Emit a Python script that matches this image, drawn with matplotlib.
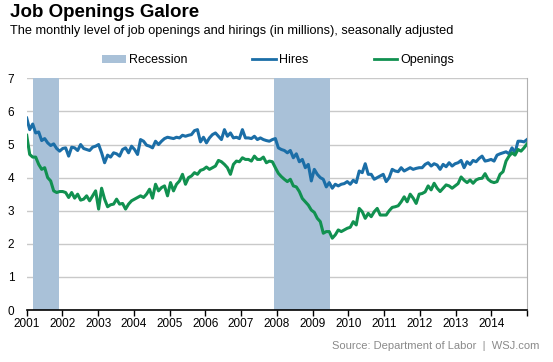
import numpy as np
import matplotlib
matplotlib.use("Agg")
import matplotlib.pyplot as plt
from matplotlib.patches import Patch
from matplotlib.lines import Line2D

plt.rcParams['font.family'] = ['Liberation Sans', 'DejaVu Sans']

years = list(range(2001, 2015))
year_labels = [str(y) for y in years]

hires = [
    5.80, 5.45, 5.62, 5.35, 5.38, 5.12, 5.18, 5.05, 4.97, 5.02, 4.88, 4.80,  # 2001
    4.88, 4.90, 4.65, 4.92, 4.90, 4.82, 5.00, 4.88, 4.85, 4.82, 4.92, 4.95,  # 2002
    5.00, 4.75, 4.45, 4.68, 4.62, 4.75, 4.72, 4.65, 4.85, 4.90, 4.75, 4.95,  # 2003
    4.85, 4.70, 5.15, 5.10, 4.98, 4.95, 4.90, 5.10, 5.00, 5.10, 5.18, 5.22,  # 2004
    5.20, 5.18, 5.22, 5.20, 5.28, 5.25, 5.28, 5.30, 5.42, 5.45, 5.08, 5.22,  # 2005
    5.05, 5.20, 5.30, 5.35, 5.25, 5.15, 5.45, 5.25, 5.35, 5.20, 5.22, 5.18,  # 2006
    5.45, 5.20, 5.20, 5.18, 5.25, 5.15, 5.20, 5.15, 5.12, 5.10, 5.15, 5.18,  # 2007
    4.90, 4.85, 4.82, 4.75, 4.82, 4.60, 4.72, 4.48, 4.55, 4.30, 4.40, 3.90,  # 2008
    4.25, 4.10, 4.00, 3.95, 3.72, 3.85, 3.68, 3.80, 3.75, 3.80, 3.82, 3.88,  # 2009
    3.80, 3.92, 3.85, 4.20, 4.15, 4.42, 4.10, 4.10, 3.95, 4.00, 4.05, 4.10,  # 2010
    3.88, 4.00, 4.25, 4.20, 4.18, 4.30, 4.20, 4.25, 4.30, 4.25, 4.28, 4.30,  # 2011
    4.30, 4.40, 4.45, 4.35, 4.42, 4.38, 4.25, 4.40, 4.33, 4.45, 4.35, 4.42,  # 2012
    4.45, 4.52, 4.30, 4.48, 4.40, 4.52, 4.48, 4.58, 4.65, 4.50, 4.52, 4.55,  # 2013
    4.50, 4.68, 4.72, 4.75, 4.78, 4.72, 4.90, 4.75, 5.10, 5.10, 5.08, 5.15,  # 2014
]

openings = [
    5.28, 4.70, 4.62, 4.62, 4.40, 4.25, 4.30, 4.00, 3.90, 3.60, 3.55, 3.58,  # 2001
    3.58, 3.55, 3.40, 3.55, 3.38, 3.50, 3.32, 3.35, 3.45, 3.30, 3.45, 3.60,  # 2002
    3.05, 3.68, 3.35, 3.12, 3.18, 3.20, 3.35, 3.20, 3.22, 3.05, 3.20, 3.30,  # 2003
    3.35, 3.40, 3.45, 3.40, 3.50, 3.65, 3.38, 3.80, 3.60, 3.70, 3.75, 3.45,  # 2004
    3.85, 3.60, 3.80, 3.90, 4.10, 3.80, 4.00, 4.05, 4.15, 4.10, 4.22, 4.25,  # 2005
    4.32, 4.25, 4.30, 4.35, 4.52, 4.48, 4.40, 4.30, 4.10, 4.40, 4.50, 4.48,  # 2006
    4.60, 4.55, 4.55, 4.50, 4.65, 4.55, 4.55, 4.62, 4.45, 4.50, 4.48, 4.30,  # 2007
    4.13, 4.03, 3.95, 3.88, 3.95, 3.75, 3.72, 3.58, 3.37, 3.27, 3.17, 3.02,  # 2008
    2.95, 2.77, 2.67, 2.32, 2.37, 2.37, 2.17, 2.27, 2.42, 2.37, 2.42, 2.47,  # 2009
    2.50, 2.67, 2.57, 3.07, 2.97, 2.77, 2.92, 2.82, 2.97, 3.07, 2.87, 2.87,  # 2010
    2.87, 3.00, 3.10, 3.12, 3.15, 3.27, 3.42, 3.27, 3.50, 3.38, 3.22, 3.50,  # 2011
    3.52, 3.57, 3.75, 3.63, 3.83, 3.68, 3.58, 3.68, 3.78, 3.75, 3.68, 3.75,  # 2012
    3.82, 4.02, 3.92, 3.85, 3.93, 3.83, 3.93, 3.97, 3.98, 4.12, 3.95, 3.88,  # 2013
    3.85, 3.88, 4.10, 4.18, 4.50, 4.65, 4.75, 4.68, 4.85, 4.80, 4.90, 5.02,  # 2014
]

recessions = [(2001 + 2/12, 2001 + 11/12), (2007 + 11/12, 2009 + 6/12)]

# monthly points spread across the 2001-2015 axis range
x = np.linspace(2001, 2015, len(hires))

rec_color = '#a9c1d8'
hires_color = '#1b6ea7'
open_color = '#119150'

fig = plt.figure(figsize=(5.53, 3.62), dpi=100)
ax = fig.add_axes([0.0483, 0.1436, 0.9047, 0.64])

for a, b in recessions:
    ax.axvspan(a, b, color=rec_color, lw=0, zorder=1)

ax.set_ylim(0, 7)
ax.set_xlim(2001, 2015)
ax.set_yticks(range(0, 8))
for v in range(1, 8):
    ax.axhline(v, color='#c9c9c9', lw=1.0, zorder=0.5)

ax.plot(x, hires, color=hires_color, lw=2.2, zorder=3, solid_joinstyle='round')
ax.plot(x, openings, color=open_color, lw=2.2, zorder=3, solid_joinstyle='round')

ax.set_xticks(years + [2015])
ax.set_xticklabels(year_labels + [''])
ax.tick_params(axis='x', direction='out', length=4, width=1, color='black', labelsize=8.5, pad=2)
ax.tick_params(axis='y', length=0, labelsize=8.5, pad=9)
for s in ['top', 'left']:
    ax.spines[s].set_visible(False)
ax.spines['right'].set_color('#b0b0b0')
ax.spines['bottom'].set_color('black')
ax.spines['bottom'].set_linewidth(1.2)

handles = [Patch(facecolor=rec_color, edgecolor='none'),
           Line2D([], [], color=hires_color, lw=2),
           Line2D([], [], color=open_color, lw=2)]
fig.legend(handles, ['Recession', 'Hires', 'Openings'], loc='center',
           bbox_to_anchor=(0.503, 0.834), ncol=3, frameon=False, fontsize=9,
           handlelength=1.9, handleheight=0.6, handletextpad=0.25, columnspacing=5.2)

fig.text(0.018, 0.99, 'Job Openings Galore', fontsize=13.5, fontweight='bold', va='top', ha='left')
fig.text(0.018, 0.93, 'The monthly level of job openings and hirings (in millions), seasonally adjusted',
         fontsize=9.2, va='top', ha='left')
fig.text(0.975, 0.045, 'Source: Department of Labor  |  WSJ.com', fontsize=8, color='#8a8a8a',
         ha='right', va='center')

fig.savefig('out.png', dpi=100)
